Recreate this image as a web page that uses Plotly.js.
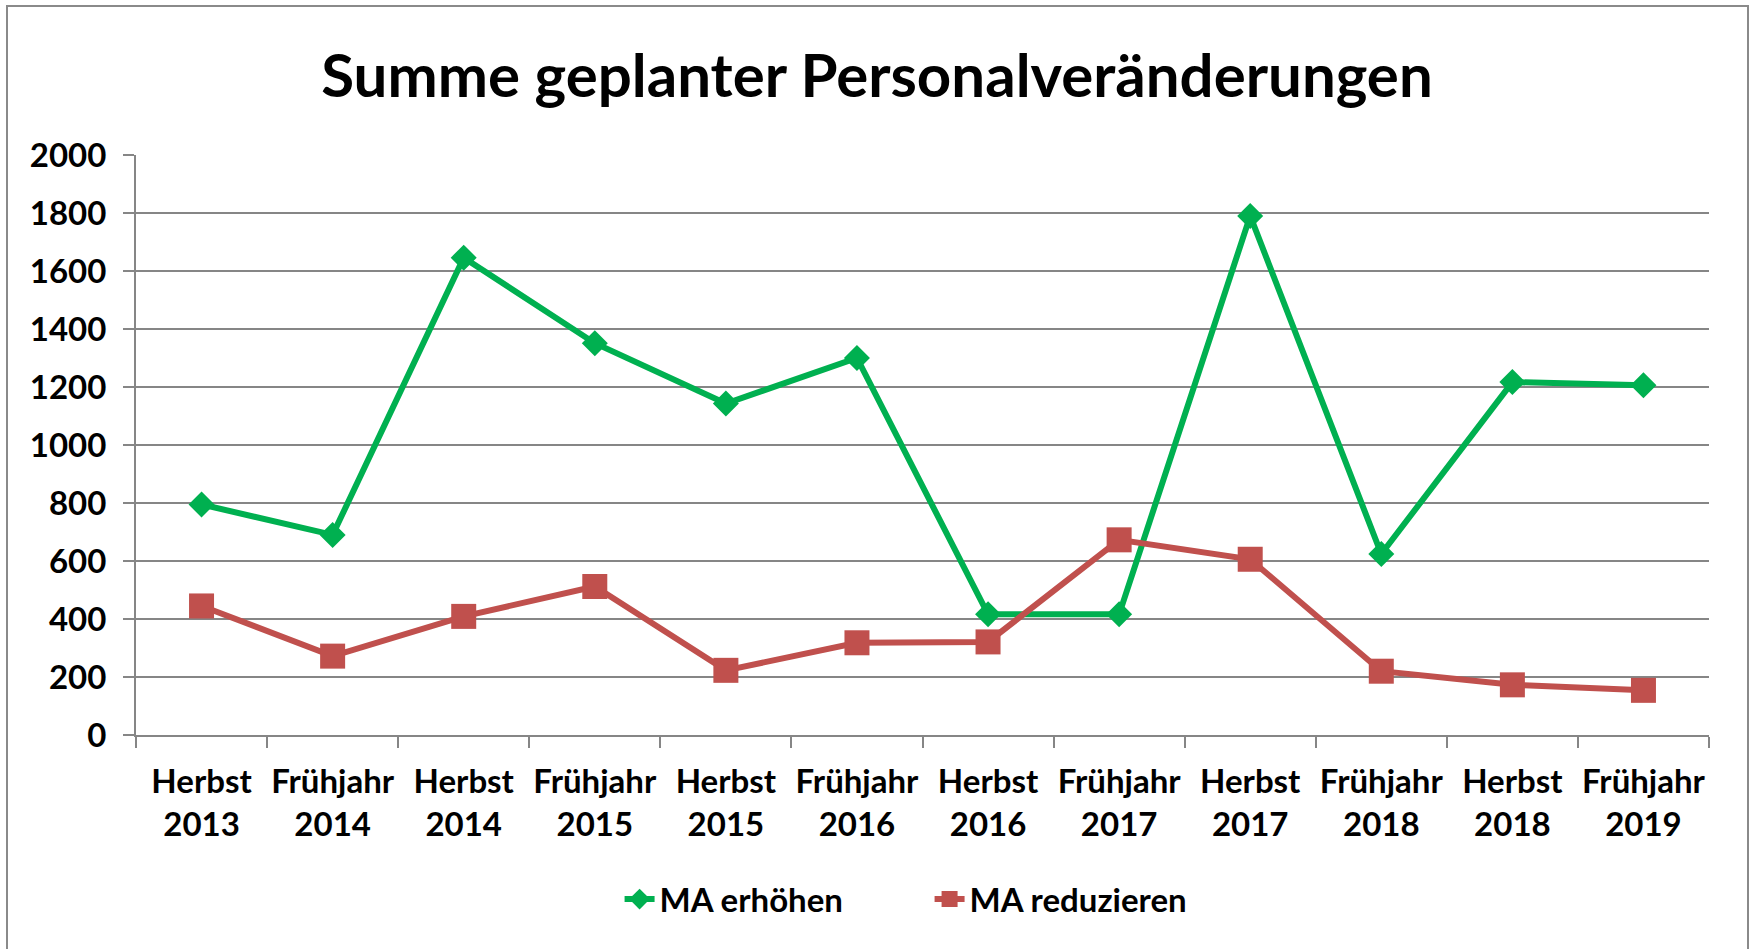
<!DOCTYPE html>
<html>
<head>
<meta charset="utf-8">
<script src="https://cdn.plot.ly/plotly-3.0.1.min.js"></script>
<style>
html,body{margin:0;padding:0;background:#fff;}
#wrap{position:relative;width:1754px;height:949px;overflow:hidden;}
#chart{width:1754px;height:949px;}
#frame{position:absolute;left:6px;top:5px;width:1743px;height:1000px;border:2px solid #8a8a8a;box-sizing:border-box;pointer-events:none;}
</style>
</head>
<body>
<div id="wrap"><div id="chart"></div><div id="frame"></div></div>
<script>
const seasons = ["Herbst","Frühjahr","Herbst","Frühjahr","Herbst","Frühjahr","Herbst","Frühjahr","Herbst","Frühjahr","Herbst","Frühjahr"];
const years = ["2013","2014","2014","2015","2015","2016","2016","2017","2017","2018","2018","2019"];
const categories = seasons.map((s, i) => s + "<br>" + years[i]);
const maErhoehen = [795, 690, 1646, 1351, 1143, 1300, 416, 416, 1790, 624, 1217, 1206];
const maReduzieren = [445, 272, 409, 512, 223, 318, 321, 673, 606, 220, 173, 154];
const yTicks = [0,200,400,600,800,1000,1200,1400,1600,1800,2000];

const FONT = "Lato, 'Open Sans', sans-serif";
const FS = 33;
const traces = [
  {x: categories, y: maErhoehen, name: "MA erhöhen", type: "scatter", mode: "lines+markers",
   line: {color: "#00B050", width: 6}, marker: {symbol: "diamond", size: 20, color: "#00B050"}},
  {x: categories, y: maReduzieren, name: "MA reduzieren", type: "scatter", mode: "lines+markers",
   line: {color: "#C0504D", width: 6}, marker: {symbol: "square", size: 25, color: "#C0504D"}}
];
const layout = {
  width: 1754, height: 949,
  paper_bgcolor: "#fff", plot_bgcolor: "#fff",
  margin: {l: 136, r: 45, t: 155, b: 214},
  font: {family: FONT, color: "#000", size: FS, weight: "bold"},
  title: {text: "<b>Summe geplanter Personalveränderungen</b>", x: 0.5, xref: "container", xanchor: "center",
          y: 1 - 76/949, yref: "container", yanchor: "middle",
          font: {family: FONT, size: 60, color: "#000"}},
  xaxis: {type: "category", range: [-0.5, 11.5], showgrid: false, showline: true, linecolor: "#868686", linewidth: 2,
          tickangle: 0, automargin: false,
          ticks: "outside", tickson: "boundaries", ticklen: 11, tickcolor: "#868686", tickwidth: 2,
          tickfont: {family: FONT, size: FS, color: "#000", weight: "bold"}, ticklabelstandoff: 16, fixedrange: true},
  yaxis: {range: [0, 2000], tickvals: yTicks, ticktext: yTicks.map(String), showgrid: true, gridcolor: "#868686", gridwidth: 2,
          zeroline: false, showline: true, linecolor: "#868686", linewidth: 2, automargin: false,
          ticks: "outside", ticklen: 11, tickcolor: "#868686", tickwidth: 2,
          tickfont: {family: FONT, size: FS, color: "#000", weight: "bold"}, ticklabelstandoff: 10, fixedrange: true},
  showlegend: true,
  legend: {orientation: "h", x: 0.5045, xanchor: "center", y: -0.283, yanchor: "middle",
           font: {family: FONT, size: FS, color: "#000", weight: "bold"}, entrywidth: 265, entrywidthmode: "pixels", traceorder: "normal"},
  hovermode: false
};
Plotly.newPlot("chart", traces, layout, {displayModeBar: false, staticPlot: true});
</script>
</body>
</html>
